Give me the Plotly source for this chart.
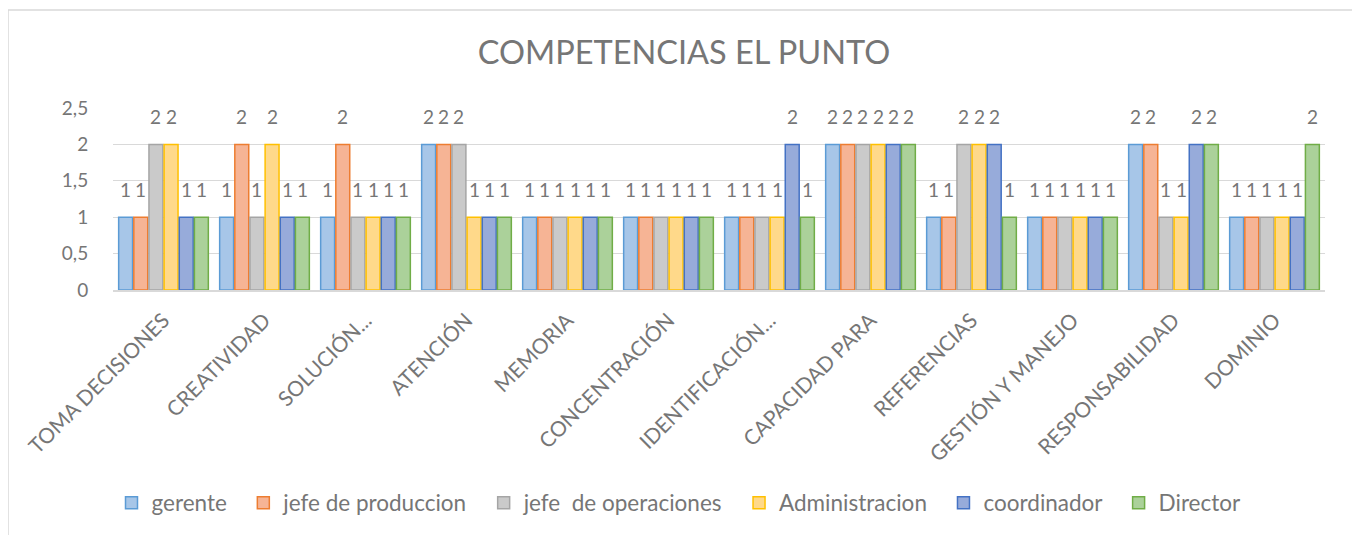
import plotly.graph_objects as go

categories = ["TOMA DECISIONES", "CREATIVIDAD", "SOLUCIÓN...", "ATENCIÓN", "MEMORIA",
              "CONCENTRACIÓN", "IDENTIFICACIÓN...", "CAPACIDAD PARA", "REFERENCIAS",
              "GESTIÓN Y MANEJO", "RESPONSABILIDAD", "DOMINIO"]
gerente = [1, 1, 1, 2, 1, 1, 1, 2, 1, 1, 2, 1]
jefe_produccion = [1, 2, 2, 2, 1, 1, 1, 2, 1, 1, 2, 1]
jefe_operaciones = [2, 1, 1, 2, 1, 1, 1, 2, 2, 1, 1, 1]
administracion = [2, 2, 1, 1, 1, 1, 1, 2, 2, 1, 1, 1]
coordinador = [1, 1, 1, 1, 1, 1, 2, 2, 2, 1, 2, 1]
director = [1, 1, 1, 1, 1, 1, 1, 2, 1, 1, 2, 2]

series = [
    ("gerente", gerente, "#A7C6E8", "#5B9BD5"),
    ("jefe de produccion", jefe_produccion, "#F6B495", "#ED7D31"),
    ("jefe  de operaciones", jefe_operaciones, "#CACACA", "#A5A5A5"),
    ("Administracion", administracion, "#FFD98A", "#FFC000"),
    ("coordinador", coordinador, "#97ABDA", "#4472C4"),
    ("Director", director, "#ABD19A", "#70AD47"),
]

FONT = "Lato, 'Open Sans', sans-serif"
TXT = "#767676"
PAD = "\u00a0\u00a0"

# layout geometry (figure is drawn with an 8px page offset)
W, H = 1352, 527
ML, MR, MT, MB = 105, 35, 100, 245
BARGAP = 0.1
plot_w = W - ML - MR
plot_h = H - MT - MB
cat_w = plot_w / len(categories)
slot_w = cat_w * (1 - BARGAP) / len(series)

fig = go.Figure()
annotations = []
for i, (name, vals, fill, line) in enumerate(series):
    fig.add_trace(go.Bar(
        name=name + PAD, x=categories, y=vals,
        marker=dict(color=fill, line=dict(color=line, width=1.5)),
    ))
    xshift = (i - (len(series) - 1) / 2) * slot_w
    for c, v in zip(categories, vals):
        annotations.append(dict(
            x=c, y=v, xref="x", yref="y", text=str(v), showarrow=False,
            xshift=xshift, yshift=14, yanchor="bottom",
            font=dict(size=19, color=TXT, family=FONT),
        ))

fig.update_layout(
    width=W, height=H,
    barmode="group", bargap=BARGAP, bargroupgap=0.08,
    paper_bgcolor="white", plot_bgcolor="white",
    separators=",.",
    font=dict(family=FONT, color=TXT),
    title=dict(text="COMPETENCIAS EL PUNTO", x=0.5, xref="container", xanchor="center",
               y=1 - 45 / H, yref="container", yanchor="middle",
               font=dict(size=32.5, color=TXT, family=FONT)),
    margin=dict(l=ML, r=MR, t=MT, b=MB, autoexpand=False),
    xaxis=dict(tickangle=-45, tickfont=dict(size=21, color=TXT),
               showline=True, linecolor="#D9D9D9", linewidth=1.5, ticks="",
               ticklabelstandoff=8, automargin=False),
    yaxis=dict(range=[0, 2.5], dtick=0.5, tickformat=".1~f",
               showgrid=True, gridcolor="#D9D9D9", gridwidth=1,
               zeroline=False, tickfont=dict(size=19, color=TXT),
               ticks="outside", ticklen=20, tickcolor="rgba(0,0,0,0)",
               automargin=False),
    legend=dict(orientation="h", x=0.5, xref="container", xanchor="center",
                y=1 - 495 / H, yref="container", yanchor="middle",
                font=dict(size=22.5, color=TXT), traceorder="normal",
                bgcolor="rgba(0,0,0,0)"),
    annotations=annotations,
    shapes=[dict(type="rect", xref="paper", yref="paper",
                 x0=-ML / plot_w, x1=(W - 5 - ML) / plot_w,
                 y0=-1.4, y1=1 + 98 / plot_h,
                 line=dict(color="#D9D9D9", width=1.5))],
)

fig.write_html("out.html")
